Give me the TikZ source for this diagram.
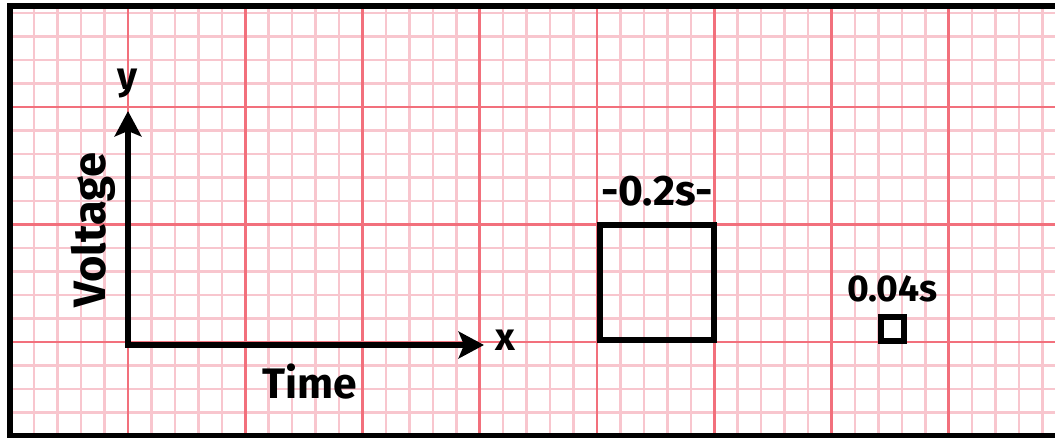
\documentclass[tikz,border=0pt]{standalone}
\usepackage{fontspec}
\setmainfont{Fira Sans}
\IfFontExistsTF{Fira Sans Heavy}
  {\newfontfamily\heavyfam{Fira Sans Heavy}\newcommand\handfont{\heavyfam}}
  {\newcommand\handfont{\bfseries}}
\usetikzlibrary{arrows.meta,positioning}
\definecolor{minorred}{RGB}{248,198,206}
\definecolor{majorred}{RGB}{242,112,124}
\begin{document}
\begin{tikzpicture}[x=0.75pt,y=-0.75pt]
\tikzset{minorln/.style={draw=minorred,line width=1.9pt},
  majorln/.style={draw=majorred,line width=2.2pt},
  axisln/.style={line width=3.8pt,{Stealth[length=19pt,width=20pt,inset=4pt]}-{Stealth[length=19pt,width=20pt,inset=4pt]}},
  sqbox/.style={draw,line width=4.5pt,inner sep=0pt},
  lbl/.style={inner sep=0pt,font=\handfont\fontsize{32}{32}\selectfont}}
\useasboundingbox (0,0) rectangle (1055,438);
\fill[white] (0,0) rectangle (1055,438);
% ecg paper
\begin{scope}
\clip (9,6) rectangle (1055,435);
\foreach \k in {-5,...,40} \draw[minorln] ({128+\k*23.45},0) -- ({128+\k*23.45},438);
\foreach \k in {-5,...,14} \draw[minorln] (0,{107+\k*23.5}) -- (1055,{107+\k*23.5});
\foreach \k in {-1,...,8} \draw[majorln] ({128+\k*117.25},0) -- ({128+\k*117.25},438);
\foreach \k in {-1,...,3} \draw[majorln] (0,{107+\k*117.5}) -- (1055,{107+\k*117.5});
\end{scope}
\draw[line width=4.5pt] (1055,6) -- (9.5,6) -- (9.5,435.5) -- (1055,435.5);
% axes
\coordinate (orig) at (128,345);
\coordinate (ytip) at (128,111);
\coordinate (xtip) at (484,345);
\draw[axisln] (ytip) -- (orig) -- (xtip);
\node[lbl,font=\handfont\fontsize{29}{29}\selectfont] (ylab) at (128,84) {y};
\node[lbl,font=\handfont\fontsize{29}{29}\selectfont] (xlab) at (505,340) {x};
\node[lbl,rotate=90,font=\handfont\fontsize{34}{34}\selectfont] (vlab) at (93,230) {Voltage};
\node[lbl] (tlab) at (310,382) {Time};
% squares
\node[sqbox,minimum size=86pt] (bigsq) at (657,282.5) {};
\node[lbl,above=12pt of bigsq] (bigtxt) {-0.2s-};
\node[sqbox,minimum size=17.3pt] (smallsq) at (892.5,329) {};
\node[lbl,above=9pt of smallsq,font=\handfont\fontsize{28}{28}\selectfont] (smalltxt) {0.04s};
\end{tikzpicture}
\end{document}
